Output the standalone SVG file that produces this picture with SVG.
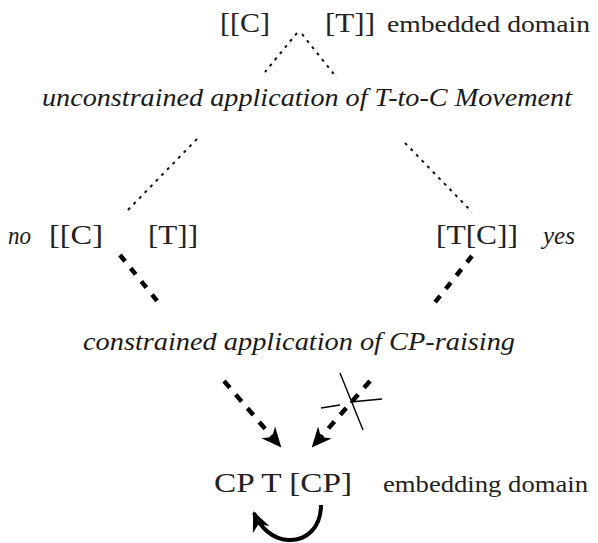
<svg xmlns="http://www.w3.org/2000/svg" width="598" height="543" viewBox="0 0 598 543">
<style>
.br{font-family:"Liberation Serif","Times New Roman",serif;font-size:28px;fill:#222}
.lb{font-family:"Liberation Serif","Times New Roman",serif;font-size:24px;fill:#222}
.it{font-family:"Liberation Serif","Times New Roman",serif;font-size:25px;font-style:italic;fill:#1a1a1a}
.thin{stroke:#111;stroke-width:2;fill:none;stroke-dasharray:3 5}
.thick{stroke:#000;stroke-width:4.5;fill:none;stroke-dasharray:8 9}
.arr{stroke:#000;stroke-width:4.5;fill:none;stroke-dasharray:9 9}
.x{stroke:#000;stroke-width:1.4;fill:none}
</style>
<defs>
<marker id="ah" markerUnits="userSpaceOnUse" markerWidth="20" markerHeight="20" refX="18" refY="10" orient="auto" viewBox="0 0 20 20">
<path d="M0,1 L20,10 L0,19 L6,10 z" fill="#000"/>
</marker>
</defs>
<rect width="598" height="543" fill="#fff"/>
<g id="embedded">
<text class="br" x="220" y="32" textLength="50" lengthAdjust="spacingAndGlyphs">[[C]</text>
<text class="br" x="325" y="32" textLength="50" lengthAdjust="spacingAndGlyphs">[T]]</text>
<text class="lb" x="387" y="32" textLength="203" lengthAdjust="spacingAndGlyphs">embedded domain</text>
</g>
<g id="unconstrained">
<text class="it" x="42" y="106" textLength="530" lengthAdjust="spacingAndGlyphs">unconstrained  application of T-to-C Movement</text>
</g>
<g id="no">
<text class="it" x="8" y="244" textLength="23" lengthAdjust="spacingAndGlyphs">no</text>
<text class="br" x="49" y="244" textLength="54" lengthAdjust="spacingAndGlyphs">[[C]</text>
<text class="br" x="148" y="244" textLength="50" lengthAdjust="spacingAndGlyphs">[T]]</text>
</g>
<g id="yes">
<text class="br" x="436" y="244" textLength="82" lengthAdjust="spacingAndGlyphs">[T[C]]</text>
<text class="it" x="543" y="244" textLength="32" lengthAdjust="spacingAndGlyphs">yes</text>
</g>
<g id="constrained">
<text class="it" x="83" y="350" textLength="432" lengthAdjust="spacingAndGlyphs">constrained  application of CP-raising</text>
</g>
<g id="embedding">
<text class="br" x="214" y="492" textLength="138" lengthAdjust="spacingAndGlyphs">CP T [CP]</text>
<text class="lb" x="383" y="492" textLength="205" lengthAdjust="spacingAndGlyphs">embedding domain</text>
</g>
<g id="connectors">
<line class="thin" x1="297" y1="33" x2="265" y2="72"/>
<line class="thin" x1="302" y1="34" x2="337" y2="78"/>
<line class="thin" x1="197" y1="139" x2="125" y2="213"/>
<line class="thin" x1="405" y1="143" x2="472" y2="212"/>
<line class="thick" x1="120" y1="255" x2="162" y2="307"/>
<line class="thick" x1="472" y1="256" x2="432" y2="306"/>
<line class="arr" x1="224" y1="381" x2="280" y2="446" marker-end="url(#ah)"/>
<line class="arr" x1="370" y1="381" x2="313" y2="446" marker-end="url(#ah)"/>
<line class="x" x1="340" y1="373" x2="363" y2="430"/>
<path class="x" d="M321,408 L340,405 M350,402 L382,399"/>
<path d="M321,505 C321,528 306,541 288,540 C272,539 260,527 254,513" stroke="#000" stroke-width="4" fill="none" marker-end="url(#ah)"/>
</g>
</svg>
